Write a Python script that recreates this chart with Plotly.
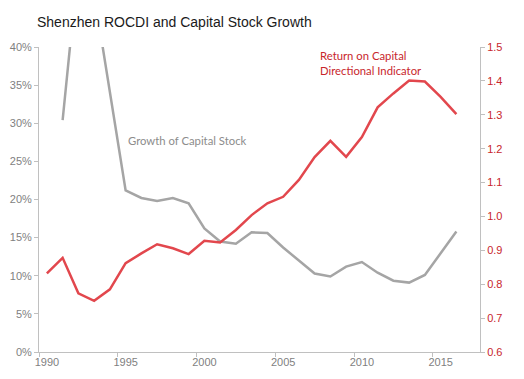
import plotly.graph_objects as go

years = list(range(1990, 2017))
capital_growth = [None, 0.304, 0.51, 0.47, 0.338, 0.212, 0.202, 0.198, 0.202, 0.195,
                  0.162, 0.145, 0.142, 0.157, 0.156, 0.137, 0.120, 0.103, 0.099, 0.112,
                  0.118, 0.104, 0.0935, 0.091, 0.101, 0.129, 0.158]
rocdi = [0.832, 0.878, 0.773, 0.751, 0.785, 0.862, 0.891, 0.918, 0.906, 0.889,
         0.928, 0.923, 0.960, 1.004, 1.039, 1.058, 1.108, 1.175, 1.223, 1.176,
         1.234, 1.322, 1.363, 1.401, 1.398, 1.353, 1.302]
x_tick_labels = ["1990", "1995", "2000", "2005", "2010", "2015"]
x_tick_vals = [int(v) for v in x_tick_labels]

GRAY = "#a5a5a5"
RED = "#e2474d"
RED_TXT = "#c8262c"
AXIS = "#c0c0c0"
FONT = "Liberation Sans, Arial, sans-serif"

# page body has an 8px margin, so the figure is sized to fit the 524x379 window
W, H = 516, 371

fig = go.Figure()
fig.add_trace(go.Scatter(x=years, y=capital_growth, mode="lines", yaxis="y",
                         line=dict(color=GRAY, width=2.5), connectgaps=False,
                         showlegend=False, hoverinfo="skip"))
fig.add_trace(go.Scatter(x=years, y=rocdi, mode="lines", yaxis="y2",
                         line=dict(color=RED, width=2.5),
                         showlegend=False, hoverinfo="skip"))

fig.update_layout(
    template="none",
    width=W, height=H,
    margin=dict(l=31, r=44, t=39, b=27, autoexpand=False),
    paper_bgcolor="white", plot_bgcolor="white",
    font=dict(family=FONT, size=11, color="#7f7f7f"),
    title=dict(text="Shenzhen ROCDI and Capital Stock Growth",
               x=29/W, xanchor="left", xref="container",
               y=1-13.7/H, yanchor="middle", yref="container",
               font=dict(family=FONT, size=14, color="#1a1a1a")),
    xaxis=dict(range=[1989.5, 2017.5], tickmode="array", tickvals=x_tick_vals,
               ticktext=x_tick_labels, ticks="", showgrid=False, zeroline=False,
               showline=True, linecolor=AXIS, linewidth=1, automargin=False,
               tickfont=dict(size=11, color="#7f7f7f"),
               minor=dict(tickmode="array", tickvals=[v - 0.5 for v in x_tick_vals],
                          ticks="outside", ticklen=4, tickcolor=AXIS, showgrid=False)),
    yaxis=dict(range=[0, 0.40], dtick=0.05, tickformat=".0%", showgrid=False,
               zeroline=False, showline=True, linecolor=AXIS, linewidth=1,
               ticks="outside", ticklen=4, tickcolor=AXIS, automargin=False,
               tickfont=dict(size=11, color="#7f7f7f")),
    yaxis2=dict(range=[0.6, 1.5], dtick=0.1, tickformat=".1f", overlaying="y",
                side="right", showgrid=False, zeroline=False, showline=True,
                linecolor=AXIS, linewidth=1, ticks="outside", ticklen=4,
                tickcolor=AXIS, automargin=False, tickfont=dict(size=11, color=RED_TXT)),
    annotations=[
        dict(text="Growth of Capital Stock", x=(126 - 39) / 441, xref="paper",
             y=(352 - 140.7) / 305, yref="paper", xanchor="left", yanchor="middle",
             showarrow=False, font=dict(family="Lato, Open Sans, sans-serif", size=11.3, color="#8c8c8c")),
        dict(text="Return on Capital<br>Directional Indicator", x=(318 - 39) / 441, xref="paper",
             y=(352 - 63.2) / 305, yref="paper", xanchor="left", yanchor="middle", align="left",
             showarrow=False, font=dict(family="Lato, Open Sans, sans-serif", size=11.3, color=RED_TXT)),
    ],
)

fig.write_html("out.html")
